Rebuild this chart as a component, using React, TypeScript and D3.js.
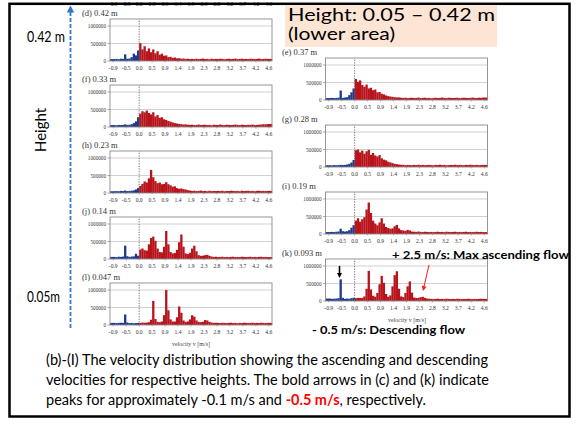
import * as d3 from "d3"
import React from "react"

// x axis tick labels (velocity v [m/s]), evenly spaced categories
const xTickLabels = ["-0.9", "-0.5", "0.0", "0.5", "0.9", "1.4", "1.9", "2.3", "2.8", "3.2", "3.7", "4.2", "4.6"]
const yTickValues = [0, 500, 1000]
const yTickLabels = ["0", "500000", "1000000"]
const binsPerTick = 6
const negativeBins = 12 // bins left of 0.0 (descending flow)

// counts per velocity bin, in thousands (72 bins from -0.9 to 4.6 m/s)
const counts042 = [
  55, 60, 50, 65, 60, 190, 65, 70, 110, 210, 160, 300,
  510, 330, 420, 280, 360, 250, 330, 220, 280, 180, 210, 150,
  160, 110, 120, 90, 100, 75, 80, 65, 70, 60, 65, 55,
  60, 55, 65, 55, 60, 70, 55, 60, 50, 65, 55, 60,
  55, 65, 60, 50, 60, 65, 55, 60, 70, 55, 60, 65,
  55, 60, 55, 65, 60, 55, 60, 70, 55, 60, 65, 60,
]
const counts037 = [
  55, 60, 55, 60, 65, 270, 60, 70, 80, 140, 220, 330,
  600, 520, 560, 430, 380, 440, 330, 350, 280, 300, 220, 230,
  180, 160, 130, 110, 100, 90, 80, 70, 75, 65, 60, 65,
  55, 60, 65, 55, 60, 70, 55, 60, 65, 55, 60, 50,
  60, 65, 55, 60, 70, 60, 55, 65, 60, 55, 60, 65,
  55, 60, 65, 60, 55, 60, 70, 60, 55, 65, 60, 70,
]
const counts033 = [
  55, 50, 60, 55, 60, 75, 60, 65, 80, 110, 160, 280,
  380, 450, 420, 470, 400, 360, 420, 300, 340, 260, 280, 220,
  200, 170, 150, 130, 110, 100, 85, 80, 70, 75, 65, 60,
  65, 55, 60, 70, 55, 60, 65, 55, 60, 50, 65, 60,
  55, 70, 60, 55, 65, 60, 55, 60, 70, 60, 55, 65,
  60, 55, 65, 60, 70, 55, 60, 65, 70, 80, 75, 85,
]
const counts028 = [
  50, 45, 55, 50, 55, 60, 55, 60, 70, 90, 130, 200,
  480, 500, 420, 470, 380, 450, 490, 350, 400, 330, 300, 340,
  250, 210, 190, 150, 130, 110, 90, 80, 70, 65, 60, 55,
  60, 55, 50, 60, 55, 65, 55, 60, 50, 55, 60, 55,
  50, 60, 55, 65, 55, 60, 50, 55, 60, 55, 65, 55,
  60, 55, 50, 60, 55, 65, 60, 55, 60, 50, 55, 60,
]
const counts023 = [
  50, 55, 50, 60, 55, 70, 55, 60, 65, 75, 100, 140,
  200, 260, 330, 300, 420, 660, 450, 340, 280, 300, 250, 260,
  310, 250, 220, 180, 190, 140, 120, 130, 110, 100, 80, 70,
  60, 65, 55, 60, 70, 55, 60, 50, 65, 55, 60, 55,
  60, 55, 65, 50, 60, 55, 65, 60, 55, 60, 50, 65,
  55, 60, 65, 55, 60, 50, 60, 65, 55, 60, 55, 60,
]
const counts019 = [
  55, 60, 55, 65, 70, 150, 80, 70, 80, 110, 180, 250,
  380, 450, 350, 420, 480, 700, 900, 600, 380, 300, 250, 330,
  450, 300, 200, 170, 150, 160, 220, 260, 160, 110, 100, 90,
  120, 100, 70, 65, 60, 70, 60, 55, 65, 60, 55, 60,
  55, 60, 65, 55, 60, 55, 65, 60, 55, 60, 65, 55,
  60, 55, 60, 65, 55, 60, 55, 60, 65, 55, 60, 55,
]
const counts014 = [
  60, 55, 65, 60, 70, 380, 80, 60, 70, 75, 150, 90,
  270, 300, 250, 240, 420, 600, 640, 520, 300, 200, 190, 350,
  800, 420, 200, 160, 170, 260, 480, 700, 350, 160, 140, 180,
  300, 380, 220, 110, 90, 95, 110, 120, 90, 70, 60, 65,
  55, 60, 65, 55, 60, 50, 60, 65, 55, 60, 55, 65,
  60, 55, 60, 65, 55, 60, 50, 60, 65, 55, 60, 55,
]
const counts0093 = [
  70, 60, 65, 70, 80, 620, 90, 60, 70, 65, 80, 90,
  80, 90, 85, 90, 130, 350, 860, 330, 150, 120, 230, 480,
  720, 520, 200, 120, 160, 420, 740, 850, 350, 130, 110, 230,
  420, 560, 240, 100, 85, 90, 110, 120, 90, 70, 65, 60,
  55, 60, 65, 55, 60, 55, 65, 60, 55, 60, 55, 65,
  60, 55, 60, 55, 65, 60, 55, 60, 55, 60, 65, 60,
]
const counts0047 = [
  60, 55, 60, 65, 60, 300, 70, 55, 60, 50, 55, 60,
  60, 70, 65, 70, 80, 150, 690, 170, 90, 80, 100, 280,
  1000, 420, 160, 100, 100, 220, 530, 350, 130, 90, 100, 160,
  280, 240, 130, 90, 80, 90, 140, 130, 90, 70, 60, 65,
  60, 55, 65, 60, 55, 60, 65, 55, 60, 50, 60, 55,
  65, 60, 55, 60, 65, 55, 60, 55, 65, 60, 55, 60,
]

const panels = [
  { title: "(d) 0.42 m", counts: counts042, col: 0, row: 0 },
  { title: "(f) 0.33 m", counts: counts033, col: 0, row: 1 },
  { title: "(h) 0.23 m", counts: counts023, col: 0, row: 2 },
  { title: "(j) 0.14 m", counts: counts014, col: 0, row: 3 },
  { title: "(l) 0.047 m", counts: counts0047, col: 0, row: 4 },
  { title: "(e) 0.37 m", counts: counts037, col: 1, row: 0 },
  { title: "(g) 0.28 m", counts: counts028, col: 1, row: 1 },
  { title: "(i) 0.19 m", counts: counts019, col: 1, row: 2 },
  { title: "(k) 0.093 m", counts: counts0093, col: 1, row: 3 },
]

const columns = [
  { x0: 110, zero0: 61, step: 66, titleX: 82 },
  { x0: 325.5, zero0: 100, step: 67, titleX: 282 },
]

const plotW = 162
const plotH = 42
const blue = "#1d3a8f"
const red = "#b8141c"
const serif = "'Liberation Serif', 'DejaVu Serif', serif"
const sans = "Lato, 'Open Sans', sans-serif"

const xScaleFor = (x0) => d3.scaleLinear().domain([-0.25, 12.25]).range([x0, x0 + plotW])

const TickLabels = ({ x0, y }) => {
  const x = xScaleFor(x0)
  return (
    <g fontFamily={serif} fontSize={5.6} fill="#333" textAnchor="middle">
      {xTickLabels.map((t, i) => <text key={i} x={x(i)} y={y}>{t}</text>)}
    </g>
  )
}

const Panel = ({ title, counts, x0, zeroY, titleX }) => {
  const x = xScaleFor(x0)
  const y = d3.scaleLinear().domain([0, 1200]).range([zeroY, zeroY - plotH])
  const step = 1 / binsPerTick
  const [r0, r1] = x.range()
  return (
    <g>
      <text x={titleX} y={zeroY - plotH - 3} fontFamily={serif} fontSize={8.5} fill="#333">{title}</text>
      <rect x={x0} y={zeroY - plotH} width={plotW} height={plotH} fill="#fff" />
      {yTickValues.slice(1).map(v => (
        <line key={v} x1={x0} x2={x0 + plotW} y1={y(v)} y2={y(v)} stroke="#c4c4c4" strokeWidth={0.8} />
      ))}
      {counts.map((c, i) => {
        const left = i === 0 ? r0 : x(i * step)
        const right = i === counts.length - 1 ? r1 : x((i + 1) * step)
        return (
          <rect key={i} x={left} y={y(c)} width={right - left + 0.15} height={zeroY - y(c)}
            fill={i < negativeBins ? blue : red} />
        )
      })}
      <line x1={x(2)} x2={x(2)} y1={zeroY} y2={zeroY - plotH} stroke="#555" strokeWidth={0.8} strokeDasharray="1.3 1.3" />
      <rect x={x0} y={zeroY - plotH} width={plotW} height={plotH} fill="none" stroke="#8a8a8a" strokeWidth={0.9} />
      {yTickValues.map((v, i) => (
        <g key={v}>
          <line x1={x0 - 2.5} x2={x0} y1={y(v)} y2={y(v)} stroke="#777" strokeWidth={0.6} />
          <text x={x0 - 4} y={y(v) + 2} fontFamily={serif} fontSize={5.2} fill="#333" textAnchor="end">{yTickLabels[i]}</text>
        </g>
      ))}
      {xTickLabels.map((t, i) => (
        <line key={t} x1={x(i)} x2={x(i)} y1={zeroY} y2={zeroY + 1.5} stroke="#777" strokeWidth={0.5} />
      ))}
      <TickLabels x0={x0} y={zeroY + 9} />
    </g>
  )
}

const Arrow = ({ x1, y1, x2, y2, color, width, head }) => {
  const a = Math.atan2(y2 - y1, x2 - x1)
  const bx = x2 - head * Math.cos(a)
  const by = y2 - head * Math.sin(a)
  const w = head * 0.5
  const p = [
    [x2, y2],
    [bx + w * Math.sin(a), by - w * Math.cos(a)],
    [bx - w * Math.sin(a), by + w * Math.cos(a)],
  ]
  return (
    <g>
      <line x1={x1} y1={y1} x2={bx} y2={by} stroke={color} strokeWidth={width} />
      <polygon points={p.map(q => q.join(",")).join(" ")} fill={color} />
    </g>
  )
}

export default function App() {
  return (
    <svg width={577} height={424} style={{ position: "absolute", left: 0, top: 0, background: "#fff" }}>
      <rect width={577} height={424} fill="#fff" />
      {/* tick labels of the row above (d), mostly hidden by the slide frame */}
      <TickLabels x0={columns[0].x0} y={5.5} />
      <rect x={9.5} y={3.8} width={560} height={412.7} fill="none" stroke="#000" strokeWidth={2.5} />

      <rect x={285} y={5.2} width={212} height={41.8} fill="#fde5d5" />
      <text x={288} y={21} fontFamily={sans} fontSize={17.5} fill="#000" textLength={207} lengthAdjust="spacingAndGlyphs">Height: 0.05 – 0.42 m</text>
      <text x={288} y={40} fontFamily={sans} fontSize={17.5} fill="#000" textLength={107} lengthAdjust="spacingAndGlyphs">(lower area)</text>

      {/* height axis */}
      <line x1={70.5} x2={70.5} y1={328} y2={12} stroke="#2e75d0" strokeWidth={1.8} strokeDasharray="4 2" />
      <polygon points="70.5,5.5 66.8,12.5 74.2,12.5" fill="#2e75d0" />
      <text x={27} y={42} fontFamily={sans} fontSize={15} fill="#000" textLength={38} lengthAdjust="spacingAndGlyphs">0.42 m</text>
      <text x={27} y={302} fontFamily={sans} fontSize={15} fill="#000" textLength={33} lengthAdjust="spacingAndGlyphs">0.05m</text>
      <text transform="translate(46,130) rotate(-90)" textAnchor="middle" fontFamily={sans} fontSize={15} fill="#000">Height</text>

      {panels.map(p => {
        const c = columns[p.col]
        return <Panel key={p.title} title={p.title} counts={p.counts} x0={c.x0} zeroY={c.zero0 + c.step * p.row} titleX={c.titleX} />
      })}
      <text x={191} y={346} fontFamily={serif} fontSize={6} fill="#444" textAnchor="middle">velocity v [m/s]</text>
      <text x={407} y={322} fontFamily={serif} fontSize={6} fill="#444" textAnchor="middle">velocity v [m/s]</text>

      {/* annotations */}
      <Arrow x1={339.5} y1={266} x2={339.5} y2={278} color="#000" width={1.6} head={5} />
      <Arrow x1={429} y1={265} x2={423} y2={291} color="#ff1a1a" width={1} head={5} />
      <text x={392} y={259} fontFamily={sans} fontWeight="bold" fontSize={12} fill="#000" textLength={177} lengthAdjust="spacingAndGlyphs">+ 2.5 m/s: Max ascending flow</text>
      <text x={312} y={334} fontFamily={sans} fontWeight="bold" fontSize={12} fill="#000" textLength={153} lengthAdjust="spacingAndGlyphs">- 0.5 m/s: Descending flow</text>

      {/* caption */}
      <g fontFamily={sans} fontSize={14.5} fill="#000">
        <text x={46} y={365} textLength={442} lengthAdjust="spacingAndGlyphs">(b)-(I) The velocity distribution showing the ascending and descending</text>
        <text x={46} y={385} textLength={443} lengthAdjust="spacingAndGlyphs">velocities for respective heights. The bold arrows in (c) and (k) indicate</text>
        <text x={46} y={405}>
          peaks for approximately -0.1 m/s and{" "}
          <tspan fill="#ff0000" fontWeight="bold">-0.5 m/s</tspan>
          , respectively.
        </text>
      </g>
    </svg>
  )
}
